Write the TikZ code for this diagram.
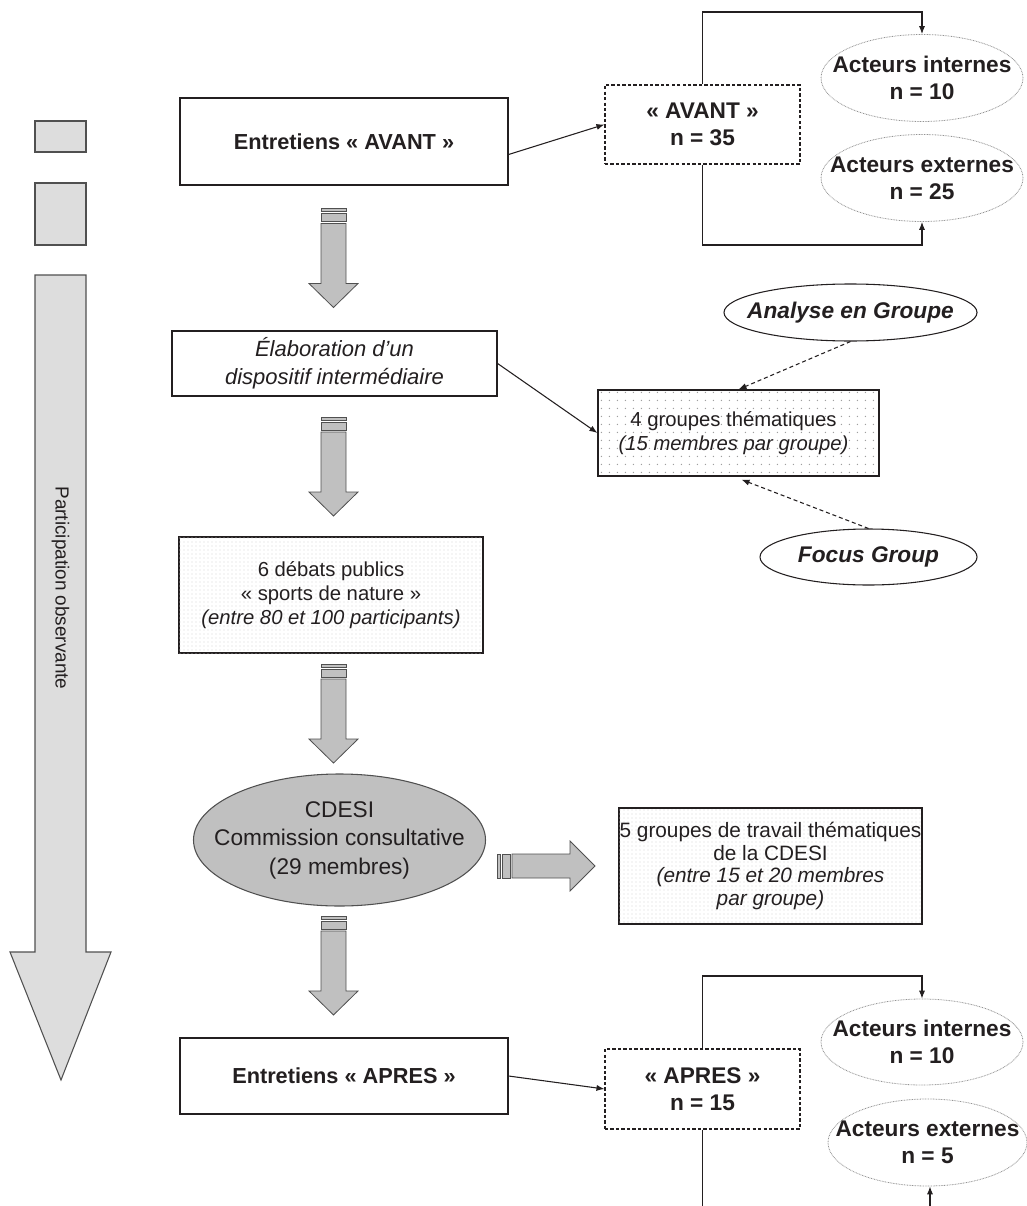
\documentclass[tikz,border=0pt]{standalone}
\usepackage{fontspec}
\setmainfont{Liberation Sans}
\usetikzlibrary{arrows.meta,calc,patterns,shapes.geometric}
\def\pxu{0.75pt}
\definecolor{txt}{RGB}{35,31,32}
\definecolor{lightg}{RGB}{221,221,221}
\definecolor{midg}{RGB}{192,192,192}
\definecolor{edgeg}{RGB}{80,80,80}
\tikzset{
  box/.style={draw=txt, line width=0.9pt, fill=white, inner sep=0pt, align=center, text=txt},
  dbox/.style={draw=txt, line width=0.8pt, dash pattern=on 2.5pt off 1.6pt, fill=white, inner sep=0pt, align=center, text=txt},
  acteur/.style={ellipse, draw=gray!85, line width=0.6pt, dash pattern=on 0.6pt off 0.6pt, inner sep=0pt},
  oval/.style={ellipse, draw=txt, line width=0.8pt, inner sep=0pt},
  lbl/.style={text=txt, align=center, inner sep=0pt},
  conn/.style={draw=txt, line width=0.8pt, -{Latex[length=6pt,width=4.6pt]}},
  dconn/.style={draw=txt, line width=0.8pt, dash pattern=on 3pt off 2.2pt, -{Latex[length=6pt,width=4.6pt]}},
  plain/.style={draw=txt, line width=0.8pt},
  blk/.style={fill=midg, draw=edgeg, line width=0.6pt},
  fEnt/.style={font=\fontsize{16.3}{19.5}\selectfont\bfseries},
  fBig/.style={font=\fontsize{17}{20.25}\selectfont\bfseries},
  fElab/.style={font=\fontsize{16.5}{21}\selectfont\itshape},
  fGrp/.style={font=\fontsize{15.2}{18}\selectfont},
  fAn/.style={font=\fontsize{17}{20}\selectfont\bfseries\itshape},
  fCd/.style={font=\fontsize{17}{21.4}\selectfont},
  fGcinq/.style={font=\fontsize{15.6}{17}\selectfont},
  fPart/.style={font=\fontsize{14.2}{17}\selectfont},
  downblk/.pic={
    \filldraw[blk] (-12.5,0) rectangle (12.5,3);
    \filldraw[blk] (-12.5,5) rectangle (12.5,13);
    \filldraw[blk] (-12.5,15) -- (12.5,15) -- (12.5,75) -- (24.5,75) -- (0,99) -- (-24.5,75) -- (-12.5,75) -- cycle;
  },
  rightblk/.pic={
    \filldraw[blk] (0,-12) rectangle (3,12);
    \filldraw[blk] (5,-12) rectangle (13,12);
    \filldraw[blk] (15,-12) -- (73,-12) -- (73,-25) -- (98,0) -- (73,25) -- (73,12) -- (15,12) -- cycle;
  }
}
\begin{document}
\begin{tikzpicture}[x=0.75pt,y=-0.75pt]
\useasboundingbox (0,0) rectangle (1026,1206);

% left side
\node[fill=lightg, draw=edgeg, line width=0.8pt, minimum width=51*\pxu, minimum height=31*\pxu, inner sep=0pt] (lr1) at (60.5,136.5) {};
\node[fill=lightg, draw=edgeg, line width=0.8pt, minimum width=51*\pxu, minimum height=62*\pxu, inner sep=0pt] (lr2) at (60.5,214) {};
\filldraw[fill=lightg, draw=edgeg, line width=0.8pt] (35,275) -- (86,275) -- (86,952) -- (111,952) -- (61,1080) -- (10,952) -- (35,952) -- cycle;
\node[lbl, fPart, rotate=-90] (part) at (60.5,588) {Participation observante};

% top: AVANT
\node[box, fEnt, minimum width=328*\pxu, minimum height=87*\pxu] (avant) at (344,141.5) {Entretiens « AVANT »};
\node[dbox, fBig, minimum width=195*\pxu, minimum height=79*\pxu] (avantn) at (702.5,124.5) {« AVANT »\\n = 35};
\node[acteur, minimum width=202*\pxu, minimum height=87*\pxu] (int1) at (922,78) {};
\node[lbl, fBig] (int1t) at (int1) {Acteurs internes\\n = 10};
\node[acteur, minimum width=202*\pxu, minimum height=87*\pxu] (ext1) at (922,178) {};
\node[lbl, fBig] (ext1t) at (ext1) {Acteurs externes\\n = 25};

% elaboration
\node[box, fElab, minimum width=325*\pxu, minimum height=65*\pxu] (elab) at (334.5,363.5) {Élaboration d’un\\dispositif intermédiaire};

% 4 groupes
\node[box, minimum width=281*\pxu, minimum height=86*\pxu] (grp4) at (738.5,433) {};
\begin{scope}
  \clip ($(grp4.north west)+(1,1)$) rectangle ($(grp4.south east)+(-1,-1)$);
  \foreach \i in {0,...,35} {
    \foreach \j in {0,...,10} {
      \fill[gray!75] ($(grp4.north west)+({\i*8+4},{\j*8+3})$) circle (0.55pt);
    }
  }
\end{scope}
\node[lbl, fGrp] (grp4t) at ($(grp4)+(-5,0)$) {4 groupes thématiques\\\textit{(15 membres par groupe)}};

\node[oval, minimum width=253*\pxu, minimum height=57*\pxu] (analyse) at (850.5,312.5) {};
\node[lbl, fAn] (analyset) at (analyse) {Analyse en Groupe};
\node[oval, minimum width=217*\pxu, minimum height=56*\pxu] (focus) at (868.5,557) {};
\node[lbl, fAn] (focust) at (focus) {Focus Group};

% debats
\node[box, fGrp, minimum width=304*\pxu, minimum height=116*\pxu, postaction={pattern=dots, pattern color=black!16}] (debats) at (331,595) {};
\node[lbl, fGrp] (debatst) at (debats) {6 débats publics\\« sports de nature »\\\textit{(entre 80 et 100 participants)}};

% CDESI
\node[ellipse, fill=midg, draw=edgeg, line width=0.8pt, minimum width=292*\pxu, minimum height=132*\pxu, inner sep=0pt] (cdesi) at (339.5,840) {};
\node[lbl, fCd] (cdesit) at (cdesi) {CDESI\\Commission consultative\\(29 membres)};

% 5 groupes
\node[box, minimum width=303*\pxu, minimum height=116*\pxu, postaction={pattern=dots, pattern color=black!16}] (grp5) at (770.5,866) {};
\node[lbl, fGcinq] (grp5t) at (grp5) {5 groupes de travail thématiques\\de la CDESI\\\textit{(entre 15 et 20 membres}\\\textit{par groupe)}};

% APRES
\node[box, fEnt, minimum width=328*\pxu, minimum height=76*\pxu] (apres) at (344,1076) {Entretiens « APRES »};
\node[dbox, fBig, minimum width=195*\pxu, minimum height=80*\pxu] (apresn) at (702.5,1089) {« APRES »\\n = 15};
\node[acteur, minimum width=202*\pxu, minimum height=86*\pxu] (int2) at (922,1042) {};
\node[lbl, fBig] (int2t) at (int2) {Acteurs internes\\n = 10};
\node[acteur, minimum width=199*\pxu, minimum height=87*\pxu] (ext2) at (927.5,1142.5) {};
\node[lbl, fBig] (ext2t) at (ext2) {Acteurs externes\\n = 5};

% block arrows
\coordinate (axis) at (333.5,0);
\pic at ($(axis |- avant.south)!0.5!(axis |- elab.north)+(0,-49.5)$) {downblk};
\pic at ($(axis |- elab.south)!0.5!(axis |- debats.north)+(0,-49.5)$) {downblk};
\pic at ($(axis |- debats.south)!0.5!(axis |- cdesi.north)+(0,-49.5)$) {downblk};
\pic at ($(axis |- cdesi.south)!0.5!(axis |- apres.north)+(0,-56)$) {downblk};
\pic at ($(cdesi.east |- grp5.west)+(11,0)$) {rightblk};

% connectors
\coordinate (topA) at (0,12);
\coordinate (botA) at (0,245);
\coordinate (topB) at (0,976);
\coordinate (edgeB) at (0,1206);
\draw[conn] ($(avant.east)+(0,13)$) -- (avantn.west);
\draw[conn] (avantn.north) -- (avantn.north |- topA) -| (int1.north);
\draw[conn] (avantn.south) -- (avantn.south |- botA) -| (ext1.south);
\draw[conn] (elab.east) -- (grp4.west);
\draw[dconn] (analyse.south) -- (grp4.north);
\draw[dconn] (focus.north) -- ($(grp4.south)+(3,3)$);
\draw[conn] (apres.east) -- (apresn.west);
\draw[conn] (apresn.north) -- (apresn.north |- topB) -| (int2.north);
\draw[plain] (apresn.south) -- (apresn.south |- edgeB);
\coordinate (extfoot) at ($(ext2.south |- edgeB)+(2.5,0)$);
\draw[conn] (extfoot) -- ($(ext2.south)+(2.5,0)$);
\end{tikzpicture}
\end{document}
